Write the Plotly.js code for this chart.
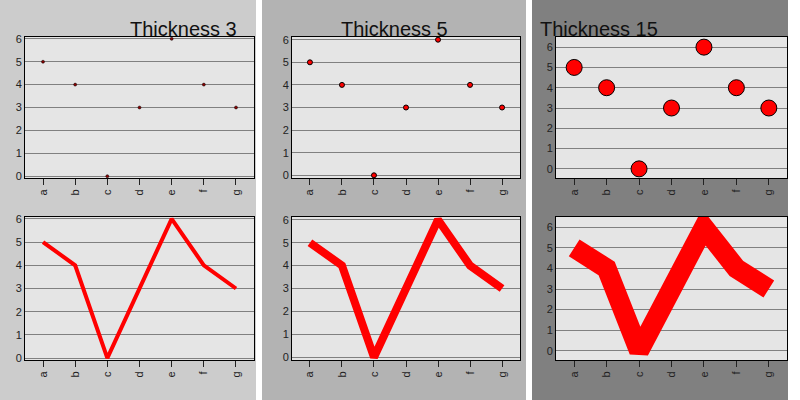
<!DOCTYPE html>
<html>
<head>
<script src="https://cdn.plot.ly/plotly-3.0.1.min.js"></script>
<style>body{margin:0}#chart{width:800px;height:400px}</style>
</head>
<body>
<div id="chart"></div>
<script>
const categories = ["a", "b", "c", "d", "e", "f", "g"];
const values = [5, 4, 0, 3, 6, 4, 3];
const thickness = [3, 5, 15];
const titles = ["Thickness 3", "Thickness 5", "Thickness 15"];
const panelColors = ["#cccccc", "#b3b3b3", "#808080"];

// pixel layout of each column
const cols = [
  { bg: [0, 256], plot: [25, 254], yr: [-0.08, 6.08] },
  { bg: [262, 526], plot: [292, 520], yr: [-0.12, 6.12] },
  { bg: [532, 788], plot: [556, 787], yr: [-0.45, 6.5] },
];
const rows = [[37, 178], [217, 360]];

const px = (x) => x / 800;
const py = (y) => 1 - y / 400;

let data = [];
let layout = {
  width: 800, height: 400,
  margin: { l: 0, r: 0, t: 0, b: 0 },
  paper_bgcolor: "white",
  showlegend: false,
  font: { family: "Liberation Sans, Arial, sans-serif", color: "#222", size: 12 },
  shapes: [], annotations: [],
};

let n = 1;
cols.forEach((c, i) => {
  layout.shapes.push({
    type: "rect", xref: "paper", yref: "paper", layer: "below",
    x0: px(c.bg[0]), x1: px(c.bg[1]), y0: 0, y1: 1,
    fillcolor: panelColors[i], line: { width: 0 },
  });
  layout.annotations.push({
    xref: "paper", yref: "paper", x: px((c.bg[0] + c.bg[1]) / 2), y: py(16),
    text: titles[i], showarrow: false, font: { size: 20, color: "#111" },
  });
  rows.forEach((r, j) => {
    const sfx = n === 1 ? "" : n;
    const t = thickness[i];
    if (j === 0) {
      data.push({
        x: categories, y: values, type: "scatter", mode: "markers",
        xaxis: "x" + sfx, yaxis: "y" + sfx,
        marker: {
          size: t === 3 ? 3 : t === 5 ? 5 : 16,
          color: t === 3 ? "#8b0000" : "red",
          line: { color: "black", width: t === 3 ? 0.5 : 1 },
        },
      });
    } else {
      data.push({
        x: categories, y: values, type: "scatter", mode: "lines",
        xaxis: "x" + sfx, yaxis: "y" + sfx,
        line: { color: "red", width: t === 3 ? 4 : t === 5 ? 8 : 20 },
      });
    }
    const yr = j === 0 ? c.yr : (i === 2 ? [-0.45, 6.5] : c.yr);
    layout["xaxis" + sfx] = {
      domain: [px(c.plot[0]), px(c.plot[1])], anchor: "y" + sfx,
      range: [-0.56, 6.56], tickangle: -90, ticks: "outside", ticklen: 6,
      tickcolor: "#222", showgrid: false, zeroline: false,
      showline: true, linecolor: "black", mirror: true, linewidth: 1,
      tickfont: { size: 11 }, fixedrange: true,
    };
    layout["yaxis" + sfx] = {
      domain: [py(r[1]), py(r[0])], anchor: "x" + sfx,
      range: yr, dtick: 1, ticks: "", showgrid: true, gridcolor: "#808080",
      gridwidth: 1, zeroline: false, showline: true, linecolor: "black",
      mirror: true, linewidth: 1, tickfont: { size: 11 },
    };
    layout.shapes.push({
      type: "rect", xref: "paper", yref: "paper", layer: "below",
      x0: px(c.plot[0]), x1: px(c.plot[1]), y0: py(r[1]), y1: py(r[0]),
      fillcolor: "#e5e5e5", line: { width: 0 },
    });
    n++;
  });
});
layout.plot_bgcolor = "rgba(0,0,0,0)";

Plotly.newPlot("chart", data, layout, { staticPlot: true });
</script>
</body>
</html>
